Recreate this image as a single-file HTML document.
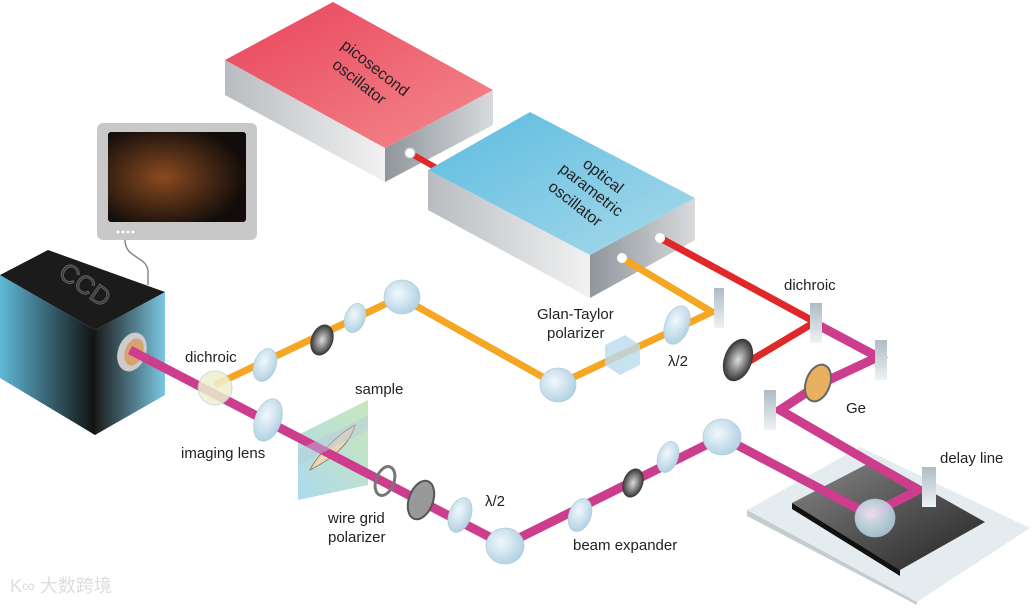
<!DOCTYPE html>
<html><head><meta charset="utf-8"><style>
html,body{margin:0;padding:0;background:#fff;}
svg text{font-family:"Liberation Sans",Arial,sans-serif;}
</style></head><body>
<svg width="1032" height="605" viewBox="0 0 1032 605" xmlns="http://www.w3.org/2000/svg">
<defs>
<linearGradient id="red" x1="0" y1="0" x2="1" y2="1"><stop offset="0" stop-color="#e8435a"/><stop offset="1" stop-color="#f48a8e"/></linearGradient>
<linearGradient id="blue" x1="0" y1="0" x2="1" y2="1"><stop offset="0" stop-color="#5cbbe0"/><stop offset="1" stop-color="#a8daea"/></linearGradient>
<linearGradient id="grey" x1="0" y1="0" x2="1" y2="0"><stop offset="0" stop-color="#b8bcc0"/><stop offset="1" stop-color="#f2f2f2"/></linearGradient>
<linearGradient id="grey2" x1="0" y1="0" x2="1" y2="0"><stop offset="0" stop-color="#8f969c"/><stop offset="1" stop-color="#d8dadc"/></linearGradient>
<linearGradient id="ccdl" x1="0" y1="0" x2="1" y2="0"><stop offset="0" stop-color="#5fb8d8"/><stop offset="1" stop-color="#111"/></linearGradient>
<linearGradient id="ccdr" x1="0" y1="0" x2="1" y2="0"><stop offset="0" stop-color="#1a1a1a"/><stop offset="1" stop-color="#7cc8e4"/></linearGradient>
<linearGradient id="plate" x1="0" y1="0" x2="1" y2="1"><stop offset="0" stop-color="#888"/><stop offset="1" stop-color="#222"/></linearGradient>
<radialGradient id="lens" cx="0.4" cy="0.4" r="0.7"><stop offset="0" stop-color="#f2f8fc"/><stop offset="1" stop-color="#a9cde0"/></radialGradient>
<radialGradient id="dark" cx="0.5" cy="0.5" r="0.6"><stop offset="0" stop-color="#ddd"/><stop offset="1" stop-color="#111"/></radialGradient>
<radialGradient id="img" cx="0.4" cy="0.5" r="0.6"><stop offset="0" stop-color="#8a4a20"/><stop offset="1" stop-color="#120d0a"/></radialGradient>
<linearGradient id="mir" x1="0" y1="0" x2="0" y2="1"><stop offset="0" stop-color="#aebcc6"/><stop offset="1" stop-color="#eef2f4"/></linearGradient>
<linearGradient id="samp" x1="0" y1="1" x2="1" y2="0"><stop offset="0" stop-color="#9fd3ea"/><stop offset="1" stop-color="#bfe3b0"/></linearGradient>
</defs>

<!-- picosecond oscillator -->
<polygon points="225,60 385,148 385,182 225,95" fill="url(#grey)"/>
<polygon points="385,148 493,90 493,125 385,182" fill="url(#grey2)"/>
<polygon points="225,60 333,2 493,90 385,148" fill="url(#red)"/>
<text transform="translate(372,72) rotate(38)" font-size="16" text-anchor="middle" fill="#222">picosecond</text>
<text transform="translate(356,86) rotate(38)" font-size="16" text-anchor="middle" fill="#222">oscillator</text>
<line x1="410" y1="153" x2="440" y2="170" stroke="#e02828" stroke-width="6"/>
<circle cx="410" cy="153" r="5" fill="#fff" stroke="#ccc"/>

<!-- OPO -->
<polygon points="428,170 590,255 590,298 428,210" fill="url(#grey)"/>
<polygon points="590,255 695,198 695,240 590,298" fill="url(#grey2)"/>
<polygon points="428,170 530,112 695,198 590,255" fill="url(#blue)"/>
<text transform="translate(600,180) rotate(38)" font-size="16" text-anchor="middle" fill="#222">optical</text>
<text transform="translate(588,194) rotate(38)" font-size="16" text-anchor="middle" fill="#222">parametric</text>
<text transform="translate(572,208) rotate(38)" font-size="16" text-anchor="middle" fill="#222">oscillator</text>

<!-- monitor -->
<rect x="97" y="123" width="160" height="117" rx="6" fill="#c8c8c8"/>
<rect x="108" y="132" width="138" height="90" rx="3" fill="url(#img)"/>
<g fill="#fff"><circle cx="118" cy="232" r="1.5"/><circle cx="123" cy="232" r="1.5"/><circle cx="128" cy="232" r="1.5"/><circle cx="133" cy="232" r="1.5"/></g>
<path d="M125,240 C125,260 150,255 148,275 L148,285" stroke="#888" stroke-width="1.5" fill="none"/>

<!-- CCD -->
<polygon points="0,275 95,330 95,435 0,378" fill="url(#ccdl)"/>
<polygon points="95,330 165,292 165,395 95,435" fill="url(#ccdr)"/>
<polygon points="0,275 48,250 165,292 95,330" fill="#1b1b1b"/>
<text transform="translate(80,292) rotate(35)" font-size="26" text-anchor="middle" fill="#3a3a3a" stroke="#666" stroke-width="0.8">CCD</text>
<ellipse cx="132" cy="352" rx="14" ry="20" fill="#ccc" transform="rotate(20 132 352)"/>
<ellipse cx="134" cy="352" rx="9" ry="14" fill="#d9a070" transform="rotate(20 134 352)"/>

<!-- delay stage -->
<polygon points="747,510 860,447 1030,528 917,602" fill="#e4ecf0"/>
<polygon points="747,510 917,602 917,605 747,516" fill="#c4ccd0"/>
<polygon points="792,503 875,460 985,522 900,570" fill="url(#plate)"/>
<polygon points="792,503 900,570 900,576 792,509" fill="#111"/>

<!-- sample -->
<polygon points="298,435 368,400 368,485 298,500" fill="url(#samp)" opacity="0.85"/>
<path d="M310,470 C320,450 345,430 355,425 C350,445 330,460 310,470 Z" fill="#e8d8b8" stroke="#8a6a3a" stroke-width="0.8"/>

<!-- orange beam -->
<polyline points="622,258 712,312 557,385 400,297 215,385" fill="none" stroke="#f5a623" stroke-width="7" stroke-linejoin="miter"/>
<!-- red beam -->
<polyline points="660,238 815,322 748,362" fill="none" stroke="#e02828" stroke-width="7"/>
<circle cx="622" cy="258" r="5" fill="#fff"/><circle cx="660" cy="238" r="5" fill="#fff"/>
<!-- magenta beams -->
<polyline points="130,350 505,545 722,437 870,515 918,490 780,410 818,385 878,357 818,325" fill="none" stroke="#cc3d8e" stroke-width="9" stroke-linejoin="miter"/>
<polygon points="298,450 368,415 368,430 298,465" fill="#b9c8e0" opacity="0.45"/>

<!-- mirrors -->
<rect x="714" y="288" width="10" height="40" fill="url(#mir)"/>
<rect x="810" y="303" width="12" height="40" fill="url(#mir)"/>
<rect x="875" y="340" width="12" height="40" fill="url(#mir)"/>
<rect x="764" y="390" width="12" height="40" fill="url(#mir)"/>
<rect x="922" y="467" width="14" height="40" fill="url(#mir)"/>

<!-- lenses -->
<g fill="url(#lens)" stroke="#b5ccd8" stroke-width="0.8">
<ellipse cx="402" cy="297" rx="18" ry="17"/>
<ellipse cx="558" cy="385" rx="18" ry="17"/>
<ellipse cx="505" cy="546" rx="19" ry="18"/>
<ellipse cx="722" cy="437" rx="19" ry="18"/>
<ellipse cx="875" cy="518" rx="20" ry="19" opacity="0.85"/>
<ellipse cx="215" cy="388" rx="17" ry="17" fill="#eef0d0" opacity="0.85"/>
<ellipse cx="355" cy="318" rx="10" ry="15" transform="rotate(20 355 318)"/>
<ellipse cx="265" cy="365" rx="11" ry="17" transform="rotate(20 265 365)"/>
<ellipse cx="268" cy="420" rx="13" ry="22" transform="rotate(20 268 420)"/>
<ellipse cx="580" cy="515" rx="11" ry="17" transform="rotate(20 580 515)"/>
<ellipse cx="668" cy="457" rx="10" ry="16" transform="rotate(20 668 457)"/>
<ellipse cx="677" cy="325" rx="12" ry="20" transform="rotate(20 677 325)"/>
<ellipse cx="460" cy="515" rx="11" ry="18" transform="rotate(20 460 515)"/>
</g>
<!-- dark elements -->
<ellipse cx="322" cy="340" rx="11" ry="16" fill="url(#dark)" transform="rotate(20 322 340)"/>
<ellipse cx="633" cy="483" rx="10" ry="15" fill="url(#dark)" transform="rotate(20 633 483)"/>
<ellipse cx="738" cy="360" rx="14" ry="22" fill="url(#dark)" transform="rotate(20 738 360)"/>
<ellipse cx="818" cy="383" rx="12" ry="19" fill="#e8b060" stroke="#666" stroke-width="2" transform="rotate(20 818 383)"/>
<ellipse cx="385" cy="481" rx="9" ry="15" fill="none" stroke="#777" stroke-width="3" transform="rotate(20 385 481)"/>
<ellipse cx="421" cy="500" rx="12" ry="20" fill="#999" stroke="#555" stroke-width="2" transform="rotate(20 421 500)"/>
<!-- polarizer cube -->
<polygon points="605,345 625,335 640,345 640,365 620,375 605,365" fill="#b9dcef" opacity="0.8"/>

<!-- labels -->
<g font-size="15" fill="#222">
<text x="185" y="362">dichroic</text>
<text x="181" y="458">imaging lens</text>
<text x="355" y="394">sample</text>
<text x="328" y="523">wire grid</text>
<text x="328" y="542">polarizer</text>
<text x="485" y="506">λ/2</text>
<text x="573" y="550">beam expander</text>
<text x="537" y="319">Glan-Taylor</text>
<text x="547" y="338">polarizer</text>
<text x="668" y="366">λ/2</text>
<text x="784" y="290">dichroic</text>
<text x="846" y="413">Ge</text>
<text x="940" y="463">delay line</text>
</g>
<text x="10" y="592" font-size="18" fill="#ddd" font-family="'Liberation Sans','Noto Sans CJK SC',sans-serif">K∞ 大数跨境</text>
</svg>
</body></html>
